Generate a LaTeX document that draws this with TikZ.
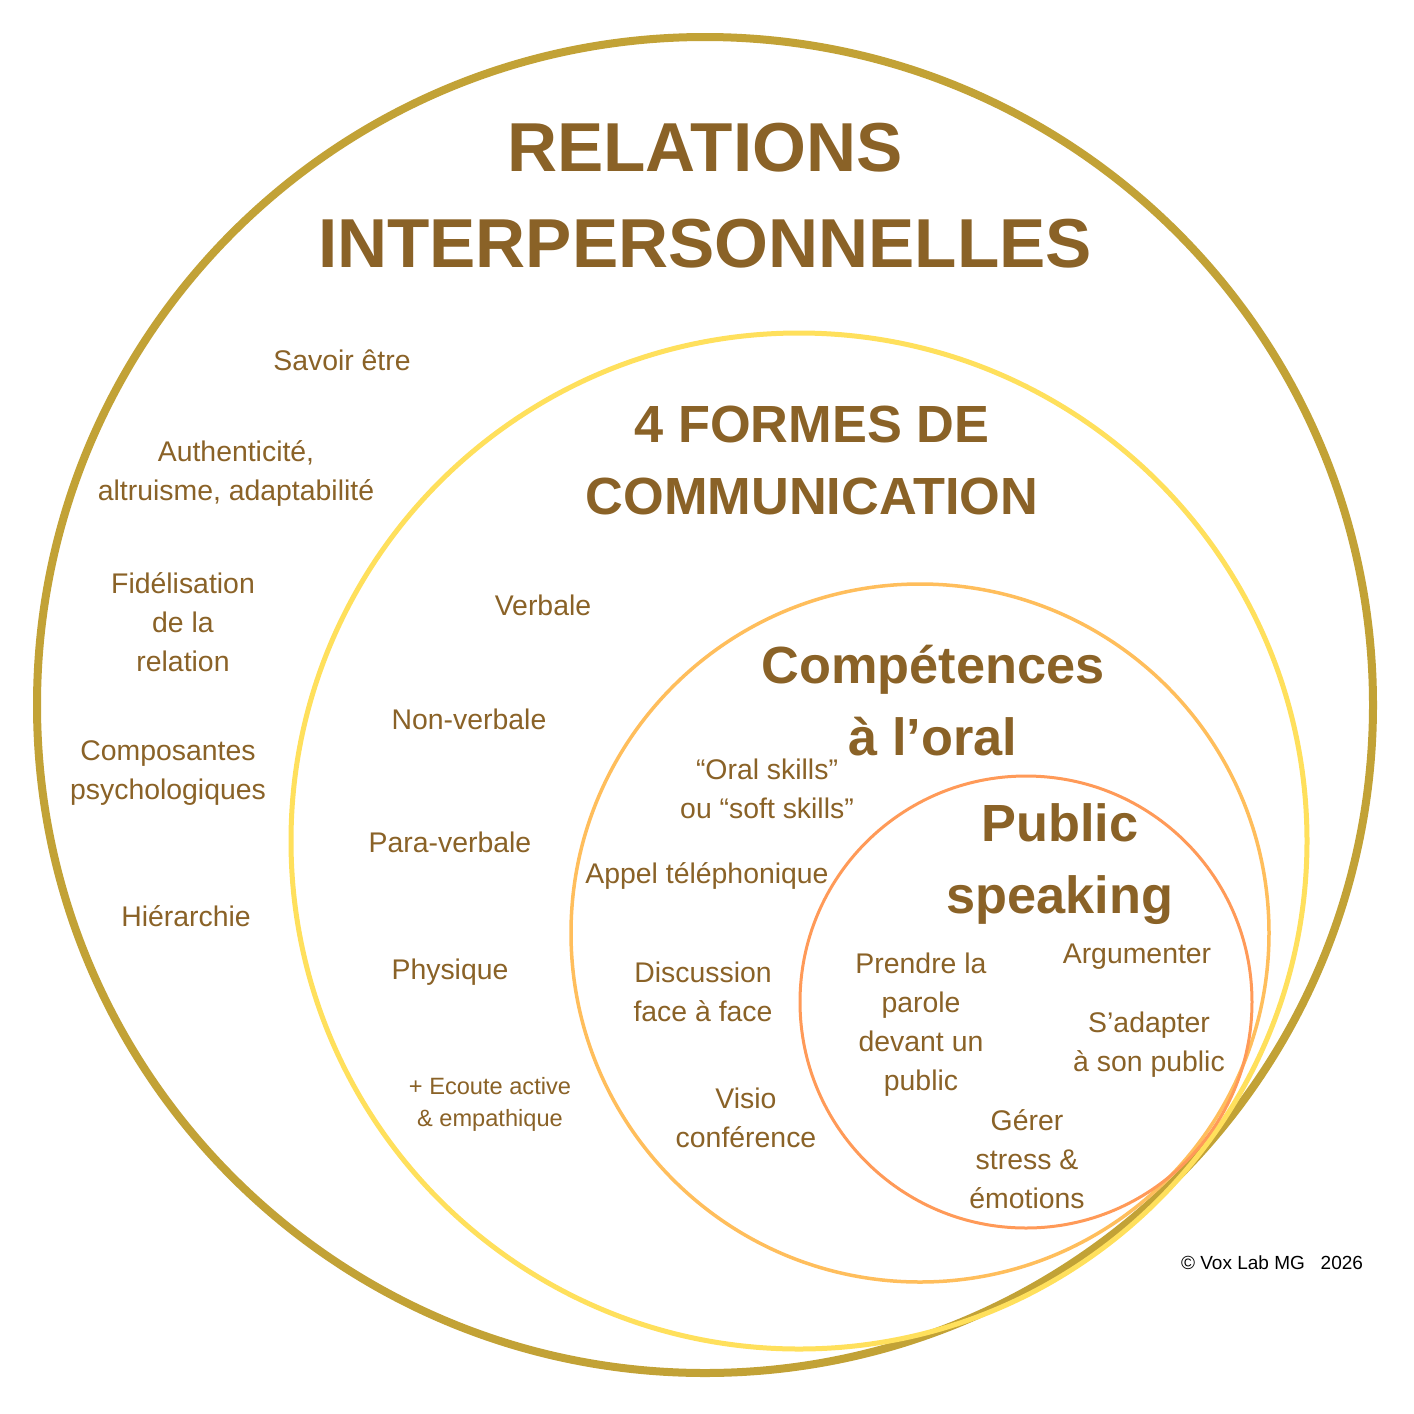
\documentclass[tikz,border=0pt]{standalone}
\usepackage{fontspec}
\setmainfont{Liberation Sans}
\definecolor{txt}{HTML}{8A6227}
\definecolor{c1}{HTML}{C2A236}
\definecolor{c2}{HTML}{FFE05C}
\definecolor{c3}{HTML}{FFBE5C}
\definecolor{c4}{HTML}{FF9A58}
\begin{document}
\begin{tikzpicture}[x=1pt,y=-1pt,
  lbl/.style={text=txt,align=center,font=\fontsize{28.4}{39}\selectfont},
  ttl/.style={text=txt,align=center,font=\bfseries}]
\useasboundingbox (0,0) rectangle (1414,1414);
\fill[white] (0,0) rectangle (1414,1414);
\draw[c1,line width=8] (705,705) circle[radius=668];
\draw[c2,line width=5] (799,841) circle[radius=508];
\draw[c3,line width=3.5] (920,933) circle[radius=349];
\draw[c4,line width=3] (1026,1002) circle[radius=226];
\node[ttl,font=\bfseries\fontsize{69.3}{96}\selectfont] (t1) at (705,196) {RELATIONS\\INTERPERSONNELLES};
\node[ttl,font=\bfseries\fontsize{52.3}{72}\selectfont] (t2) at (812,460) {4 FORMES DE\\COMMUNICATION};
\node[ttl,font=\bfseries\fontsize{52.3}{72}\selectfont] (t3) at (933,701) {Compétences\\à l’oral};
\node[ttl,font=\bfseries\fontsize{52.3}{72}\selectfont] (t4) at (1060,864) {Public\\speaking};
\node[lbl] (a1) at (342,360) {Savoir être};
\node[lbl] (a2) at (236,473) {Authenticité,\\altruisme, adaptabilité};
\node[lbl] (a3) at (183,622) {Fidélisation\\de la\\relation};
\node[lbl] (a4) at (168,773) {Composantes\\psychologiques};
\node[lbl] (a5) at (186,916) {Hiérarchie};
\node[lbl] (b1) at (543,605) {Verbale};
\node[lbl] (b2) at (469,719) {Non-verbale};
\node[lbl] (b3) at (450,842) {Para-verbale};
\node[lbl] (b4) at (450,972) {Physique};
\node[lbl,font=\fontsize{23.6}{32}\selectfont] (b5) at (490,1104) {+ Ecoute active\\\& empathique};
\node[lbl] (c1n) at (767,789) {“Oral skills”\\ou “soft skills”};
\node[lbl] (c2n) at (707,876) {Appel téléphonique};
\node[lbl] (c3n) at (703,992) {Discussion\\face à face};
\node[lbl] (c4n) at (746,1118) {Visio\\conférence};
\node[lbl] (d1) at (921,1025) {Prendre la\\parole\\devant un\\public};
\node[lbl] (d2) at (1137,957) {Argumenter};
\node[lbl] (d3) at (1149,1045) {S’adapter\\à son public};
\node[lbl] (d4) at (1027,1159) {Gérer\\stress \&\\émotions};
\node[text=black,font=\fontsize{19}{22}\selectfont] (cp) at (1272,1263) {© Vox Lab MG \ \ 2026};
\end{tikzpicture}
\end{document}
